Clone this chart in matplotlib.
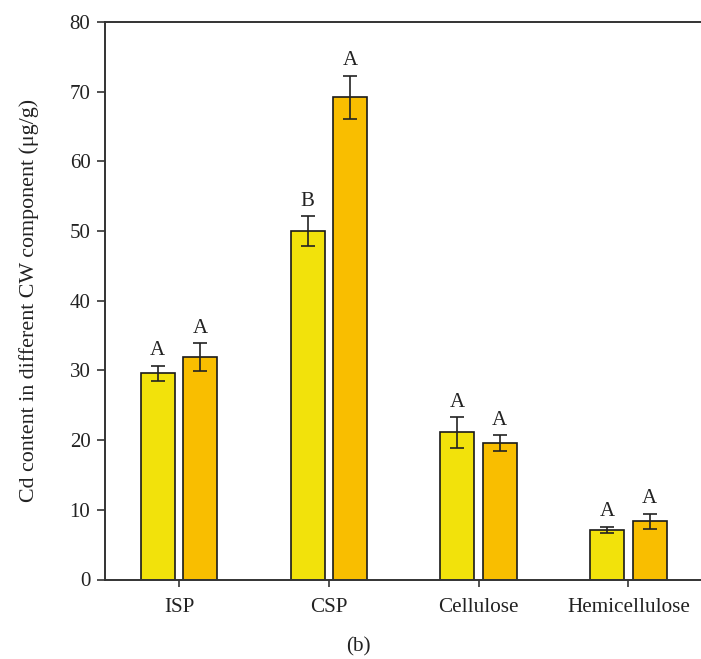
import matplotlib
matplotlib.use("Agg")
import matplotlib.pyplot as plt
import numpy as np

categories = ["ISP", "CSP", "Cellulose", "Hemicellulose"]
series1 = [29.6, 50.0, 21.1, 7.1]
series1_err = [1.1, 2.1, 2.2, 0.45]
series2 = [31.9, 69.2, 19.6, 8.35]
series2_err = [2.0, 3.1, 1.1, 1.1]
letters1 = ["A", "B", "A", "A"]
letters2 = ["A", "A", "A", "A"]
yticks = [0, 10, 20, 30, 40, 50, 60, 70, 80]

plt.rcParams['font.family'] = ['Liberation Serif', 'DejaVu Serif']

fig = plt.figure(figsize=(7.01, 6.59), dpi=100)
ax = fig.add_axes([105/701, 79.5/659, 1 - 105/701, (579.5-22)/659])

x = np.arange(len(categories))
w = 0.227
off = 0.142
c1 = "#F2E20B"
c2 = "#F9BE00"
ek = dict(ecolor="#222222", elinewidth=1.2, capthick=1.2)
ax.bar(x - off, series1, w, yerr=series1_err, color=c1, edgecolor="#1a1a1a",
       linewidth=1.2, capsize=4.8, error_kw=ek, zorder=2)
ax.bar(x + off, series2, w, yerr=series2_err, color=c2, edgecolor="#1a1a1a",
       linewidth=1.2, capsize=4.8, error_kw=ek, zorder=2)

for xi, v, e, t in zip(x - off, series1, series1_err, letters1):
    ax.annotate(t, (xi, v + e), xytext=(0, 7.5), textcoords="offset points",
                ha="center", va="baseline", fontsize=15, color="#222222")
for xi, v, e, t in zip(x + off, series2, series2_err, letters2):
    ax.annotate(t, (xi, v + e), xytext=(0, 7.5), textcoords="offset points",
                ha="center", va="baseline", fontsize=15, color="#222222")

ax.set_xlim(-0.494, 3.485)
ax.set_ylim(0, 80)
ax.set_yticks(yticks)
ax.set_xticks(x)
ax.set_xticklabels(categories, fontsize=15.2, color="#222222")
ax.tick_params(axis="y", labelsize=15, length=5.5, width=1.2, color="#333333",
               labelcolor="#222222", pad=5)
ax.tick_params(axis="x", length=5, width=1.2, color="#333333", pad=8)
for s in ["left", "bottom", "top"]:
    ax.spines[s].set_linewidth(1.4)
    ax.spines[s].set_color("#333333")
ax.spines["right"].set_visible(False)

ax.set_ylabel("Cd content in different CW component (μg/g)", fontsize=15.8,
              color="#222222")
ax.yaxis.set_label_coords(-(105 - 39) / (701 - 105), 0.5)

fig.text(358/701, 1 - 647/659, "(b)", ha="center", va="center", fontsize=15.2,
         color="#222222")

fig.savefig("out.png", dpi=100)
